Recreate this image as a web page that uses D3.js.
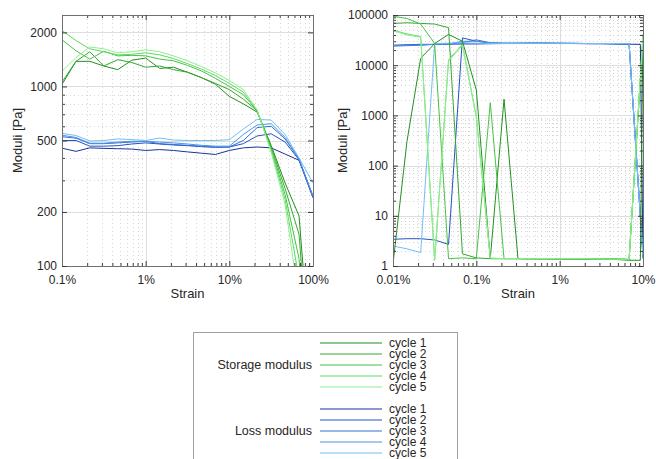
<!DOCTYPE html>
<html>
<head>
<meta charset="utf-8">
<script src="https://cdn.jsdelivr.net/npm/d3@7"></script>
<style>
  body { margin: 0; background: #fff; }
  svg { display: block; font-family: "Liberation Sans", Arial, sans-serif; }
</style>
</head>
<body>
<div id="chart"></div>
<script>
// ---- data ----
const cycleNames = ['cycle 1', 'cycle 2', 'cycle 3', 'cycle 4', 'cycle 5'];
const storageColors = ['#23901f', '#35a832', '#47c246', '#5cdc5c', '#8ff08f'];
const lossColors = ['#17359b', '#2453c2', '#306fd6', '#4b94e6', '#72bff6'];

// left panel: strain [%]
const strainLeft = [0.1, 0.147, 0.215, 0.316, 0.464, 0.681, 1, 1.47, 2.15, 3.16, 4.64, 6.81, 10, 14.7, 21.5, 31.6, 46.4, 68.1, 100];
const storageLeft = [
  [1026, 1380, 1380, 1300, 1240, 1400, 1440, 1260, 1280, 1200, 1120, 1030, 880, 800, 720, 470, 290, 190, 20],
  [1057, 1380, 1560, 1300, 1410, 1360, 1280, 1300, 1240, 1200, 1120, 1040, 960, 850, 730, 460, 270, 150, 15],
  [1820, 1580, 1420, 1570, 1480, 1490, 1480, 1420, 1390, 1310, 1220, 1110, 1000, 900, 730, 450, 250, 110, 10],
  [2050, 1800, 1620, 1560, 1500, 1510, 1540, 1500, 1430, 1340, 1250, 1150, 1040, 930, 735, 440, 235, 85, 8],
  [1212, 1450, 1660, 1620, 1540, 1560, 1600, 1560, 1480, 1390, 1290, 1190, 1080, 960, 740, 430, 220, 65, 6]
];
const lossLeft = [
  [453, 435, 455, 452, 450, 448, 440, 445, 440, 432, 425, 418, 440, 455, 460, 455, 420, 388, 240],
  [500, 500, 465, 465, 468, 478, 485, 478, 472, 468, 462, 458, 460, 480, 530, 545, 490, 390, 245],
  [525, 515, 480, 480, 485, 490, 495, 480, 475, 470, 465, 460, 460, 500, 590, 600, 510, 395, 240],
  [535, 520, 483, 483, 490, 495, 495, 490, 485, 478, 470, 465, 465, 540, 610, 620, 520, 395, 245],
  [548, 533, 497, 500, 510, 506, 500, 516, 503, 500, 500, 500, 505, 580, 655, 650, 540, 400, 290]
];

// right panel: strain [%] (null = no sample at that strain)
const strainRight = [0.01, 0.0147, 0.0215, 0.0316, 0.0464, 0.0681, 0.1, 0.147, 0.215, 0.316, 0.464, 0.681, 1, 1.47, 2.15, 3.16, 4.64, 6.81, 9.3, 10];
const storageRight = [
  [1.1, 300, 13700, 27000, 41000, 30000, 3200, 1.4, 2100, 1.4, 1.38, 1.38, 1.37, 1.37, 1.36, 1.36, 1.35, 1.3, 1.3, 40000],
  [68000, 70000, 68000, 66000, 56000, 1.75, 1.45, 1.4, 1.4, 1.4, 1.4, 1.4, 1.4, 1.4, 1.4, 1.4, 1.4, 1.35, null, 36000],
  [95000, 85000, 66000, 27000, 1.4, 1.45, 1.4, 1800, 1.4, 1.4, 1.4, 1.4, 1.4, 1.4, 1.4, 1.4, 1.38, 1.35, null, 38000],
  [50000, 42000, 37000, 1.3, 12700, 26000, 940, 1.4, 1.4, 1.4, 1.4, 1.4, 1.4, 1.4, 1.39, 1.38, 1.37, 1.35, null, 40000],
  [48000, 40000, 36000, 1.35, 12000, 25000, 900, 1.45, 1.4, 1.4, 1.4, 1.4, 1.4, 1.4, 1.39, 1.38, 1.37, 1.36, null, 42000]
];
const lossRight = [
  [25000, 25500, 26000, 26000, 26200, 26500, 26500, 26800, 27000, 27000, 27200, 27200, 27000, 27000, 26800, 26800, 26500, 26200, 26000, 1.5],
  [3.4, 3.5, 3.5, 3.3, 2.7, 35000, 30000, 27500, 27000, 27200, 27500, 27500, 27300, 27200, 27000, 27000, 26800, 26500, null, 1.4],
  [24000, 24500, 25000, 26000, 26500, 28000, 32000, 28000, 27500, 27500, 27500, 27400, 27300, 27200, 27000, 27000, 26800, 26500, null, 1.6],
  [24500, 25000, 25500, 26000, 26500, 30000, 30000, 28000, 27500, 27500, 27500, 27500, 27400, 27200, 27000, 27000, 26800, 26600, null, 1.7],
  [2.5, 2.2, 1.85, 27000, 27500, 28000, 27500, 27000, 27000, 27200, 27300, 27300, 27200, 27200, 27000, 27000, 27000, 27000, null, 1.5]
];

// tick labels
const leftXTicks = [0.1, 1, 10, 100];
const leftYTicks = [100, 200, 500, 1000, 2000];
const rightXTicks = [0.01, 0.1, 1, 10];
const rightYTicks = [1, 10, 100, 1000, 10000, 100000];

const width = 656, height = 459;
const textColor = '#262626';

const svg = d3.select('#chart').append('svg')
  .attr('width', width)
  .attr('height', height);

// 1..9 x 10^n positions inside a log domain
function logSteps(domain) {
  const out = [];
  const lo = Math.floor(Math.log10(domain[0])), hi = Math.ceil(Math.log10(domain[1]));
  for (let e = lo; e <= hi; e++) {
    for (let m = 1; m < 10; m++) {
      const v = +(m * Math.pow(10, e)).toPrecision(6);
      if (v >= domain[0] * 0.999 && v <= domain[1] * 1.001) out.push(v);
    }
  }
  return out;
}

function drawPanel(cfg) {
  const { left, top, w, h } = cfg;
  const x = d3.scaleLog().domain(cfg.xDomain).range([left, left + w]);
  const y = d3.scaleLog().domain(cfg.yDomain).range([top + h, top]);
  const g = svg.append('g').attr('class', 'panel');

  const xSteps = logSteps(cfg.xDomain), ySteps = logSteps(cfg.yDomain);
  const xMinor = xSteps.filter(v => !cfg.xTicks.includes(v));
  const yMinor = ySteps.filter(v => !cfg.yTicks.includes(v));

  // minor grid (dotted)
  g.append('g').selectAll('line').data(xMinor).join('line')
    .attr('x1', d => Math.round(x(d)) + 0.5).attr('x2', d => Math.round(x(d)) + 0.5)
    .attr('y1', top).attr('y2', top + h)
    .attr('stroke', '#d6d6d6').attr('stroke-dasharray', '1,3');
  g.append('g').selectAll('line').data(yMinor).join('line')
    .attr('y1', d => Math.round(y(d)) + 0.5).attr('y2', d => Math.round(y(d)) + 0.5)
    .attr('x1', left).attr('x2', left + w)
    .attr('stroke', '#d6d6d6').attr('stroke-dasharray', '1,3');

  // major grid
  g.append('g').selectAll('line').data(cfg.xTicks).join('line')
    .attr('x1', d => Math.round(x(d)) + 0.5).attr('x2', d => Math.round(x(d)) + 0.5)
    .attr('y1', top).attr('y2', top + h)
    .attr('stroke', '#dedede');
  g.append('g').selectAll('line').data(cfg.yTicks).join('line')
    .attr('y1', d => Math.round(y(d)) + 0.5).attr('y2', d => Math.round(y(d)) + 0.5)
    .attr('x1', left).attr('x2', left + w)
    .attr('stroke', '#dedede');

  // data lines
  const clipId = 'clip-' + cfg.name;
  svg.append('clipPath').attr('id', clipId)
    .append('rect').attr('x', left).attr('y', top).attr('width', w).attr('height', h);

  const line = d3.line().x(d => x(d.s)).y(d => y(d.v));
  const plot = g.append('g').attr('clip-path', `url(#${clipId})`);
  const toPoints = vals => vals.map((v, i) => ({ s: cfg.strain[i], v })).filter(d => d.v != null);

  cfg.loss.forEach((vals, i) => {
    plot.append('path').datum(toPoints(vals))
      .attr('fill', 'none').attr('stroke', lossColors[i]).attr('stroke-width', 1)
      .attr('d', line);
  });
  cfg.storage.forEach((vals, i) => {
    plot.append('path').datum(toPoints(vals))
      .attr('fill', 'none').attr('stroke', storageColors[i]).attr('stroke-width', 1)
      .attr('d', line);
  });

  // axes, ticks pointing inwards on all four sides
  const styleAxis = sel => {
    sel.select('.domain').attr('stroke', '#707070');
    sel.selectAll('.tick line').attr('stroke', '#3a3a3a');
    sel.selectAll('text').attr('fill', textColor).attr('font-size', 12);
  };
  const fmtX = d => d + '%';

  g.append('g').attr('transform', `translate(0,${top + h})`)
    .call(d3.axisBottom(x).tickValues(xMinor).tickSize(-3).tickSizeOuter(0).tickFormat(''))
    .call(styleAxis);
  g.append('g').attr('transform', `translate(0,${top + h})`)
    .call(d3.axisBottom(x).tickValues(cfg.xTicks).tickSize(-5).tickSizeOuter(0).tickPadding(9).tickFormat(fmtX))
    .call(styleAxis);
  g.append('g').attr('transform', `translate(0,${top})`)
    .call(d3.axisTop(x).tickValues(xMinor).tickSize(-3).tickSizeOuter(0).tickFormat(''))
    .call(styleAxis);
  g.append('g').attr('transform', `translate(0,${top})`)
    .call(d3.axisTop(x).tickValues(cfg.xTicks).tickSize(-5).tickSizeOuter(0).tickFormat(''))
    .call(styleAxis);

  g.append('g').attr('transform', `translate(${left},0)`)
    .call(d3.axisLeft(y).tickValues(yMinor).tickSize(-3).tickSizeOuter(0).tickFormat(''))
    .call(styleAxis);
  g.append('g').attr('transform', `translate(${left},0)`)
    .call(d3.axisLeft(y).tickValues(cfg.yTicks).tickSize(-5).tickSizeOuter(0).tickPadding(5).tickFormat(d => String(d)))
    .call(styleAxis);
  g.append('g').attr('transform', `translate(${left + w},0)`)
    .call(d3.axisRight(y).tickValues(yMinor).tickSize(-3).tickSizeOuter(0).tickFormat(''))
    .call(styleAxis);
  g.append('g').attr('transform', `translate(${left + w},0)`)
    .call(d3.axisRight(y).tickValues(cfg.yTicks).tickSize(-5).tickSizeOuter(0).tickFormat(''))
    .call(styleAxis);

  // axis titles
  g.append('text')
    .attr('x', left + w / 2).attr('y', top + h + 32)
    .attr('text-anchor', 'middle').attr('font-size', 13).attr('fill', textColor)
    .text('Strain');
  g.append('text')
    .attr('transform', `translate(${cfg.yLabelX},${top + h / 2}) rotate(-90)`)
    .attr('text-anchor', 'middle').attr('font-size', 13).attr('fill', textColor)
    .text('Moduli [Pa]');
}

drawPanel({
  name: 'left', left: 62, top: 15, w: 251, h: 251,
  xDomain: [0.1, 100], yDomain: [100, 2500],
  xTicks: leftXTicks, yTicks: leftYTicks,
  strain: strainLeft, storage: storageLeft, loss: lossLeft,
  yLabelX: 22
});

drawPanel({
  name: 'right', left: 393, top: 15, w: 250, h: 251,
  xDomain: [0.01, 10], yDomain: [1, 100000],
  xTicks: rightXTicks, yTicks: rightYTicks,
  strain: strainRight, storage: storageRight, loss: lossRight,
  yLabelX: 347
});

// ---- legend ----
const legend = svg.append('g').attr('class', 'legend');
legend.append('rect')
  .attr('x', 193.5).attr('y', 332.5).attr('width', 264).attr('height', 140)
  .attr('fill', '#fff').attr('stroke', '#a0a0a0');

const groups = [
  { title: 'Storage modulus', colors: storageColors, y0: 343 },
  { title: 'Loss modulus', colors: lossColors, y0: 409 }
];
const rowStep = 11;
groups.forEach(grp => {
  legend.append('text')
    .attr('x', 312).attr('y', grp.y0 + 2 * rowStep)
    .attr('dy', '0.35em').attr('text-anchor', 'end')
    .attr('font-size', 12.5).attr('fill', textColor)
    .text(grp.title);
  cycleNames.forEach((name, i) => {
    const yy = grp.y0 + i * rowStep;
    legend.append('line')
      .attr('x1', 320).attr('x2', 382).attr('y1', yy).attr('y2', yy)
      .attr('stroke', grp.colors[i]).attr('stroke-width', 1.2);
    legend.append('text')
      .attr('x', 389).attr('y', yy).attr('dy', '0.35em')
      .attr('font-size', 12).attr('fill', textColor)
      .text(name);
  });
});
</script>
</body>
</html>
